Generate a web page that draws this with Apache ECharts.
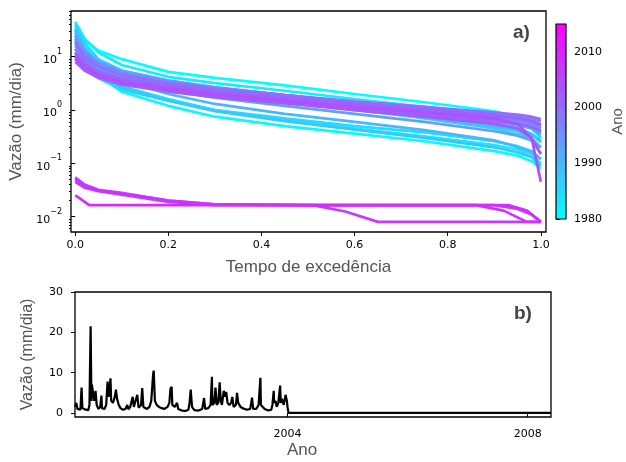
<!DOCTYPE html>
<html>
<head>
<meta charset="utf-8">
<script src="https://cdn.jsdelivr.net/npm/echarts@6/dist/echarts.min.js"></script>
<style>
  html, body { margin: 0; padding: 0; background: #fff; }
  #chart { width: 626px; height: 462px; }
</style>
</head>
<body>
<div id="chart"></div>
<script>
// tempo de excedência (eixo x do painel a)
const excedencia = [0, 0.02, 0.05, 0.1, 0.2, 0.3, 0.45, 0.6, 0.75, 0.9, 0.95, 0.98, 1.0]

// curvas de permanência dos anos "úmidos"
const anosAlta = [1980, 1981, 1982, 1983, 1984, 1985, 1986, 1987, 1988, 1989, 1990, 1991,
  1992, 1993, 1994, 1995, 1996, 1997, 1998, 1999, 2000, 2001, 2002, 2003, 2004]
const vazaoAlta = [
  [35, 20, 13, 9, 5.2, 4.0, 2.9, 2.0, 1.4, 0.95, 0.75, 0.55, 0.3],
  [25, 10, 4.5, 2.2, 1.2, 0.75, 0.5, 0.36, 0.26, 0.17, 0.14, 0.11, 0.08],
  [45, 22, 12, 7, 4.2, 3.2, 2.3, 1.6, 1.15, 0.8, 0.6, 0.45, 0.3],
  [20, 9, 5, 2.8, 1.6, 1.0, 0.65, 0.45, 0.32, 0.22, 0.18, 0.14, 0.1],
  [30, 15, 8, 5, 3.2, 2.3, 1.6, 1.1, 0.75, 0.5, 0.4, 0.3, 0.2],
  [14, 8, 4, 2.4, 1.5, 1.0, 0.7, 0.5, 0.38, 0.26, 0.21, 0.17, 0.12],
  [40, 18, 9, 5.5, 3.3, 2.5, 1.8, 1.25, 0.9, 0.6, 0.47, 0.36, 0.25],
  [22, 12, 7, 4.5, 3.0, 2.2, 1.5, 1.05, 0.7, 0.45, 0.35, 0.27, 0.15],
  [28, 11, 5, 2.6, 1.5, 0.95, 0.62, 0.43, 0.3, 0.2, 0.16, 0.13, 0.09],
  [18, 10, 6, 4, 2.7, 2.0, 1.4, 1.0, 0.72, 0.5, 0.42, 0.35, 0.27],
  [32, 14, 7, 3.6, 2.0, 1.3, 0.85, 0.6, 0.42, 0.27, 0.2, 0.16, 0.12],
  [12, 7, 4.5, 3.2, 2.4, 1.9, 1.4, 1.05, 0.8, 0.6, 0.52, 0.45, 0.38],
  [25, 13, 8, 5.5, 3.6, 2.7, 1.9, 1.35, 0.95, 0.65, 0.55, 0.45, 0.35],
  [16, 9, 5.5, 3.5, 2.3, 1.7, 1.2, 0.85, 0.6, 0.4, 0.33, 0.27, 0.2],
  [20, 11, 7, 4.8, 3.3, 2.6, 1.9, 1.4, 1.05, 0.78, 0.68, 0.58, 0.45],
  [10, 6.5, 4.5, 3.5, 2.6, 2.1, 1.6, 1.2, 0.95, 0.72, 0.64, 0.55, 0.45],
  [22, 12, 7.5, 5, 3.4, 2.6, 1.9, 1.4, 1.05, 0.8, 0.7, 0.62, 0.5],
  [9, 6, 4.2, 3.2, 2.4, 1.9, 1.45, 1.1, 0.85, 0.65, 0.57, 0.5, 0.4],
  [14, 8.5, 5.5, 4.0, 2.9, 2.3, 1.75, 1.35, 1.05, 0.85, 0.78, 0.72, 0.62],
  [11, 7, 4.8, 3.6, 2.6, 2.1, 1.6, 1.25, 1.0, 0.8, 0.72, 0.65, 0.55],
  [18, 10, 6.5, 4.5, 3.2, 2.5, 1.9, 1.45, 1.15, 0.9, 0.82, 0.75, 0.68],
  [8, 5.5, 4, 3.0, 2.2, 1.75, 1.35, 1.05, 0.82, 0.62, 0.55, 0.48, 0.4],
  [12, 7.5, 5, 3.8, 2.8, 2.2, 1.7, 1.3, 1.0, 0.78, 0.7, 0.62, 0.52],
  [9, 6, 4.2, 3.2, 2.3, 1.8, 1.35, 1.0, 0.75, 0.55, 0.45, 0.3, 0.15],
  [10, 6.5, 4.5, 3.3, 2.5, 2.0, 1.5, 1.15, 0.9, 0.7, 0.55, 0.3, 0.045],
]

// anos secos (vazão quase nula)
const anosBaixa = [2006, 2007, 2008, 2009]
const curvasBaixa = [
  [[0, 0.055], [0.02, 0.04], [0.05, 0.032], [0.1, 0.028], [0.2, 0.02], [0.3, 0.017], [0.5, 0.0165], [0.9, 0.0165], [0.95, 0.014], [0.98, 0.011], [1, 0.008]],
  [[0, 0.045], [0.02, 0.035], [0.05, 0.03], [0.1, 0.026], [0.2, 0.019], [0.3, 0.0165], [0.51, 0.0165], [0.58, 0.0125], [0.65, 0.008], [1, 0.008]],
  [[0, 0.05], [0.02, 0.038], [0.05, 0.031], [0.1, 0.027], [0.2, 0.02], [0.3, 0.017], [0.5, 0.0165], [0.86, 0.0165], [0.92, 0.013], [0.97, 0.008], [1, 0.008]],
  [[0, 0.025], [0.01, 0.022], [0.03, 0.0165], [0.93, 0.0165], [0.97, 0.013], [1, 0.008]],
]

// série diária (painel b)
const datas = ['2000-06-17', '2000-06-25', '2000-07-02', '2000-07-20', '2000-07-27', '2000-08-01', '2000-08-15',
  '2000-09-06', '2000-09-13', '2000-09-20', '2000-09-25', '2000-09-28', '2000-10-05', '2000-10-12', '2000-10-20',
  '2000-10-27', '2000-11-06', '2000-11-17', '2000-11-25', '2000-11-28', '2000-12-13', '2000-12-24', '2001-01-01',
  '2001-01-08', '2001-01-19', '2001-01-23', '2001-02-03', '2001-02-14', '2001-02-21', '2001-02-28', '2001-03-10',
  '2001-03-21', '2001-04-05', '2001-04-20', '2001-05-01', '2001-05-08', '2001-05-19', '2001-06-03', '2001-06-10',
  '2001-07-01', '2001-07-09', '2001-07-24', '2001-07-31', '2001-08-07', '2001-08-29', '2001-09-13', '2001-09-24',
  '2001-10-05', '2001-10-09', '2001-10-16', '2001-10-27', '2001-11-10', '2001-11-25', '2001-12-13', '2002-01-01',
  '2002-01-12', '2002-01-19', '2002-01-26', '2002-01-30', '2002-02-14', '2002-02-28', '2002-03-07', '2002-03-29',
  '2002-04-20', '2002-05-08', '2002-05-15', '2002-05-22', '2002-05-30', '2002-06-13', '2002-07-09', '2002-07-31',
  '2002-08-11', '2002-08-18', '2002-09-06', '2002-09-20', '2002-09-28', '2002-10-01', '2002-10-12', '2002-10-20',
  '2002-10-27', '2002-11-06', '2002-11-14', '2002-11-21', '2002-11-28', '2002-12-09', '2002-12-17', '2002-12-24',
  '2003-01-01', '2003-01-12', '2003-01-23', '2003-01-30', '2003-02-07', '2003-02-21', '2003-02-28', '2003-03-07',
  '2003-03-21', '2003-04-13', '2003-05-01', '2003-05-19', '2003-05-30', '2003-06-06', '2003-06-25', '2003-07-09',
  '2003-07-20', '2003-07-23', '2003-08-15', '2003-09-06', '2003-09-24', '2003-10-01', '2003-10-09', '2003-10-12',
  '2003-10-20', '2003-10-27', '2003-11-06', '2003-11-17', '2003-11-21', '2003-11-28', '2003-12-09', '2003-12-20',
  '2003-12-28', '2004-01-01', '2004-01-07', '2008-05-22']
const vazaoDiaria = [1.5, 2.5, 1.0, 0.8, 6.3, 1.2, 0.9,
  0.7, 2.0, 21.5, 3.0, 7.0, 6.8, 3.0, 5.5,
  2.0, 1.0, 1.5, 4.3, 1.2, 1.0, 2.0, 7.8,
  4.0, 8.6, 3.0, 2.5, 4.0, 5.8, 3.5, 2.0,
  1.2, 0.8, 1.0, 2.0, 0.9, 1.5, 4.0, 1.5,
  4.5, 1.3, 2.0, 6.2, 1.5, 1.0, 1.5, 3.0,
  9.5, 10.5, 3.0, 2.0, 1.5, 1.2, 1.0, 1.5,
  2.5, 6.0, 6.5, 2.0, 1.5, 2.5, 1.0, 0.6,
  0.5, 0.8, 2.5, 5.8, 1.5, 0.7, 0.6, 1.0,
  3.7, 1.0, 1.2, 2.0, 9.0, 2.0, 2.5, 6.3,
  2.0, 2.5, 7.6, 3.0, 2.0, 5.5, 4.0, 5.2,
  2.5, 2.0, 2.5, 4.0, 1.5, 2.0, 5.0, 2.5,
  1.5, 1.0, 0.8, 1.0, 3.8, 1.0, 1.0, 2.0,
  8.7, 2.0, 1.0, 0.6, 0.8, 2.0, 5.5, 2.5,
  3.0, 1.5, 2.5, 6.8, 2.5, 3.5, 2.0, 4.5,
  3.0, 1.5, 0.02, 0.02]

const marcasLog = [0.01, 0.1, 1, 10]
const marcasAno = [1980, 1990, 2000, 2010]
const marcasData = ['2004-01-01', '2008-01-01']

// mapa de cores "cool" (ciano -> magenta)
function cool(ano) {
  var t = (ano - 1980) / 35
  return 'rgb(' + Math.round(255 * t) + ',' + Math.round(255 * (1 - t)) + ',255)'
}
function ts(d) {
  return echarts.time.parse(d).getTime()
}

var minorLog = []
for (var n = -3; n <= 1; n++) {
  for (var k = 2; k <= 9; k++) {
    var v = k * Math.pow(10, n)
    if (v > 0.0052 && v < 72) minorLog.push(v)
  }
}

var fonteTick = { fontFamily: 'DejaVu Sans', fontSize: 11, color: '#000' }
var fonteTitulo = { fontFamily: 'Liberation Sans', fontSize: 17, color: '#555' }

var series = []
anosAlta.forEach(function (ano, i) {
  series.push({
    type: 'line', xAxisIndex: 0, yAxisIndex: 0, symbol: 'none', silent: true,
    lineStyle: { color: cool(ano), width: 2.7 },
    data: excedencia.map(function (p, j) { return [p, vazaoAlta[i][j]] }),
  })
})
anosBaixa.forEach(function (ano, i) {
  series.push({
    type: 'line', xAxisIndex: 0, yAxisIndex: 0, symbol: 'none', silent: true,
    lineStyle: { color: cool(ano), width: 2.7 },
    data: curvasBaixa[i],
  })
})
// serie temporal
series.push({
  type: 'line', xAxisIndex: 1, yAxisIndex: 2, symbol: 'none', silent: true,
  lineStyle: { color: '#000', width: 2.2 },
  data: datas.map(function (d, i) { return [ts(d), vazaoDiaria[i]] }),
})
// barra de cores
series.push({
  type: 'custom', xAxisIndex: 2, yAxisIndex: 3, silent: true,
  data: [[0, 1980, 1, 2015]],
  renderItem: function (params, api) {
    var a = api.coord([api.value(0), api.value(3)])
    var b = api.coord([api.value(2), api.value(1)])
    return {
      type: 'rect',
      shape: { x: a[0], y: a[1], width: b[0] - a[0], height: b[1] - a[1] },
      style: {
        fill: new echarts.graphic.LinearGradient(0, 0, 0, 1, [
          { offset: 0, color: cool(2015) },
          { offset: 1, color: cool(1980) },
        ]),
      },
    }
  },
})

var myChart = echarts.init(document.getElementById('chart'))

var option = {
  animation: false,
  grid: [
    { left: 71, top: 11, width: 475, height: 221, show: true, borderColor: '#000', borderWidth: 1.3 },
    { left: 75, top: 292, width: 476, height: 125, show: true, borderColor: '#000', borderWidth: 1.3 },
    { left: 556, top: 24, width: 11, height: 195, show: true, borderColor: '#000', borderWidth: 1.2, z: 5 },
  ],
  xAxis: [
    {
      gridIndex: 0, type: 'value', min: -0.009, max: 1.011,
      axisLine: { show: false },
      axisTick: { show: true, length: 4, customValues: [0, 0.2, 0.4, 0.6, 0.8, 1.0], lineStyle: { color: '#000' } },
      axisLabel: Object.assign({ margin: 8, customValues: [0, 0.2, 0.4, 0.6, 0.8, 1.0], formatter: function (v) { return v.toFixed(1) } }, fonteTick),
      splitLine: { show: false },
      name: 'Tempo de excedência', nameLocation: 'middle', nameGap: 27,
      nameTextStyle: fonteTitulo,
    },
    {
      gridIndex: 1, type: 'value', min: ts('2000-06-17'), max: ts('2008-05-22'),
      axisLine: { show: false },
      axisTick: { show: true, length: 4, customValues: marcasData.map(ts), lineStyle: { color: '#000' } },
      axisLabel: Object.assign({
        margin: 12,
        customValues: marcasData.map(ts),
        formatter: function (v) { return String(new Date(v).getFullYear()) },
      }, fonteTick),
      splitLine: { show: false },
      name: 'Ano', nameLocation: 'middle', nameGap: 25,
      nameTextStyle: Object.assign({}, fonteTitulo, { padding: [0, 22, 0, 0] }),
    },
    { gridIndex: 2, type: 'value', min: 0, max: 1, show: false },
  ],
  yAxis: [
    {
      gridIndex: 0, type: 'log', min: 0.00516, max: 72, position: 'left',
      axisLine: { show: false },
      axisTick: { show: true, length: 4, customValues: marcasLog, lineStyle: { color: '#000' } },
      axisLabel: {
        margin: 9, customValues: marcasLog,
        formatter: function (v) {
          var e = Math.round(Math.log10(v))
          return '{b|10}{s|' + (e < 0 ? '\u2212' : '') + Math.abs(e) + '}'
        },
        rich: {
          b: { fontFamily: 'DejaVu Sans', fontSize: 11, color: '#000', verticalAlign: 'bottom', lineHeight: 18 },
          s: { fontFamily: 'DejaVu Sans', fontSize: 8, color: '#000', verticalAlign: 'top', lineHeight: 18 },
        },
      },
      splitLine: { show: false },
      name: 'Vazão (mm/dia)', nameLocation: 'middle', nameGap: 45,
      nameTextStyle: fonteTitulo,
    },
    {
      gridIndex: 0, type: 'log', min: 0.00516, max: 72, position: 'left',
      axisLine: { show: false },
      axisTick: { show: true, length: 2, customValues: minorLog, lineStyle: { color: '#000' } },
      axisLabel: { show: false },
      splitLine: { show: false },
    },
    {
      gridIndex: 1, type: 'value', min: -1, max: 30,
      axisLine: { show: false },
      axisTick: { show: true, length: 4, customValues: [0, 10, 20, 30], lineStyle: { color: '#000' } },
      axisLabel: Object.assign({ margin: 12, customValues: [0, 10, 20, 30] }, fonteTick),
      splitLine: { show: false },
      name: 'Vazão (mm/dia)', nameLocation: 'middle', nameGap: 39,
      nameTextStyle: Object.assign({}, fonteTitulo, { fontSize: 16 }),
    },
    {
      gridIndex: 2, type: 'value', min: 1980, max: 2015, position: 'right',
      axisLine: { show: false },
      axisTick: { show: true, length: 4, customValues: marcasAno, lineStyle: { color: '#000' } },
      axisLabel: Object.assign({ margin: 8, customValues: marcasAno, formatter: function (v) { return String(v) } }, fonteTick),
      splitLine: { show: false },
      name: 'Ano', nameLocation: 'middle', nameGap: 44, nameRotate: 90,
      nameTextStyle: Object.assign({}, fonteTitulo, { fontSize: 15 }),
    },
  ],
  graphic: [
    { type: 'text', left: 513, top: 23, style: { text: 'a)', font: 'bold 19px "Liberation Sans"', fill: '#444' } },
    { type: 'text', left: 514, top: 304, style: { text: 'b)', font: 'bold 19px "Liberation Sans"', fill: '#444' } },
  ],
  series: series,
}

myChart.setOption(option)
</script>
</body>
</html>
